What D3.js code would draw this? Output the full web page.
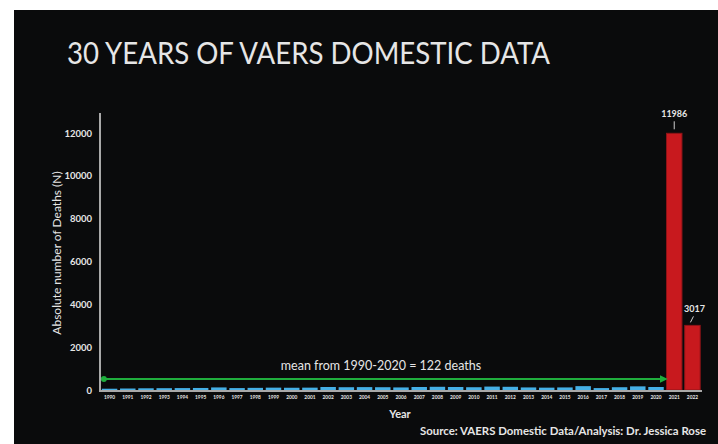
<!DOCTYPE html>
<html>
<head>
<meta charset="utf-8"/>
<title>30 years of VAERS domestic data</title>
<script src="https://d3js.org/d3.v7.min.js"></script>
<style>
	body { margin: 0; background: #fff; }
	svg { display: block; }
	text { font-family: Lato, "Open Sans", sans-serif; fill: #e6e6e6; }
</style>
</head>
<body>
<svg width="718" height="444"></svg>
<script>
// data
const years = ["1990","1991","1992","1993","1994","1995","1996","1997","1998","1999",
	"2000","2001","2002","2003","2004","2005","2006","2007","2008","2009","2010",
	"2011","2012","2013","2014","2015","2016","2017","2018","2019","2020","2021","2022"];
const deaths = [60,70,80,85,90,95,120,90,100,110,105,110,140,130,135,130,120,140,150,140,130,
	160,150,120,110,120,180,90,130,170,140,11986,3017];
const yTicks = [0,2000,4000,6000,8000,10000,12000];
const meanLabel = "mean from 1990-2020 = 122 deaths";

const svg = d3.select("svg");

// white frame + dark slide
svg.append("rect").attr("x", 14).attr("y", 10).attr("width", 704).attr("height", 434).attr("fill", "#0a0b0c");

svg.append("text")
	.attr("x", 67).attr("y", 64)
	.attr("font-size", 30)
	.attr("textLength", 483).attr("lengthAdjust", "spacingAndGlyphs")
	.text("30 YEARS OF VAERS DOMESTIC DATA");

const x = d3.scaleBand().domain(years).range([100, 702]).paddingInner(0.15).paddingOuter(0.1);
const y = d3.scaleLinear().domain([0, 12000]).range([390, 133]);

// bars
svg.selectAll("rect.bar")
	.data(years)
	.enter().append("rect")
	.attr("class", "bar")
	.attr("x", d => x(d))
	.attr("width", x.bandwidth())
	.attr("y", (d, i) => y(deaths[i]))
	.attr("height", (d, i) => y(0) - y(deaths[i]))
	.attr("fill", d => +d > 2020 ? "#c8191e" : "#45b0e6")
	.attr("stroke", d => +d > 2020 ? "#8e1418" : "none")
	.attr("stroke-width", 1);

// axes
const yAxis = svg.append("g").attr("transform", "translate(100,0)")
	.call(d3.axisLeft(y).tickValues(yTicks).tickSize(0).tickPadding(8).tickFormat(d3.format("d")));
yAxis.select(".domain").remove();
yAxis.selectAll("text").attr("font-size", 9.5).attr("font-weight", 700).attr("fill", "#dcdcdc");

const xAxis = svg.append("g").attr("transform", "translate(0,391)")
	.call(d3.axisBottom(x).tickSize(0).tickPadding(5));
xAxis.select(".domain").remove();
xAxis.selectAll("text").attr("font-size", 4.8).attr("font-weight", 700).attr("fill", "#dcdcdc");

svg.append("path")
	.attr("d", "M100,113V391H702")
	.attr("fill", "none").attr("stroke", "#a9a9a9").attr("stroke-width", 2);

svg.append("text")
	.attr("transform", "translate(61,253) rotate(-90)")
	.attr("text-anchor", "middle")
	.attr("font-size", 12)
	.text("Absolute number of Deaths (N)");

svg.append("text")
	.attr("x", 400).attr("y", 418)
	.attr("text-anchor", "middle")
	.attr("font-size", 11).attr("font-weight", 700)
	.text("Year");

// mean arrow
const defs = svg.append("defs");
defs.append("marker").attr("id", "ah").attr("viewBox", "0 0 10 10")
	.attr("refX", 5).attr("refY", 5).attr("markerWidth", 4).attr("markerHeight", 4).attr("orient", "auto")
	.append("path").attr("d", "M0,0L10,5L0,10z").attr("fill", "#1fae3d");
defs.append("marker").attr("id", "dot").attr("viewBox", "0 0 10 10")
	.attr("refX", 5).attr("refY", 5).attr("markerWidth", 3).attr("markerHeight", 3)
	.append("circle").attr("cx", 5).attr("cy", 5).attr("r", 5).attr("fill", "#1fae3d");
svg.append("line")
	.attr("x1", x("1990") + 2).attr("x2", x("2020") + x.bandwidth())
	.attr("y1", 379).attr("y2", 379)
	.attr("stroke", "#1fae3d").attr("stroke-width", 2)
	.attr("marker-start", "url(#dot)").attr("marker-end", "url(#ah)");
svg.append("text")
	.attr("x", 381).attr("y", 370)
	.attr("text-anchor", "middle")
	.attr("font-size", 12.5)
	.text(meanLabel);

// value labels for 2021 / 2022
const cx = d => x(d) + x.bandwidth() / 2;
svg.append("text").attr("x", cx("2021")).attr("y", y(deaths[31]) - 16)
	.attr("text-anchor", "middle").attr("font-size", 9).attr("font-weight", 700).text(deaths[31]);
svg.append("line").attr("x1", cx("2021")).attr("x2", cx("2021"))
	.attr("y1", y(deaths[31]) - 12).attr("y2", y(deaths[31]) - 4)
	.attr("stroke", "#cfcfcf").attr("stroke-width", 1);
svg.append("text").attr("x", cx("2022") + 2).attr("y", y(deaths[32]) - 13)
	.attr("text-anchor", "middle").attr("font-size", 9).attr("font-weight", 700).text(deaths[32]);
svg.append("line").attr("x1", cx("2022") - 2).attr("x2", cx("2022") + 1)
	.attr("y1", y(deaths[32]) - 3).attr("y2", y(deaths[32]) - 9)
	.attr("stroke", "#cfcfcf").attr("stroke-width", 1);

svg.append("text")
	.attr("x", 420).attr("y", 435)
	.attr("font-size", 11.5).attr("font-weight", 700)
	.attr("textLength", 286).attr("lengthAdjust", "spacingAndGlyphs")
	.text("Source: VAERS Domestic Data/Analysis: Dr. Jessica Rose");
</script>
</body>
</html>
